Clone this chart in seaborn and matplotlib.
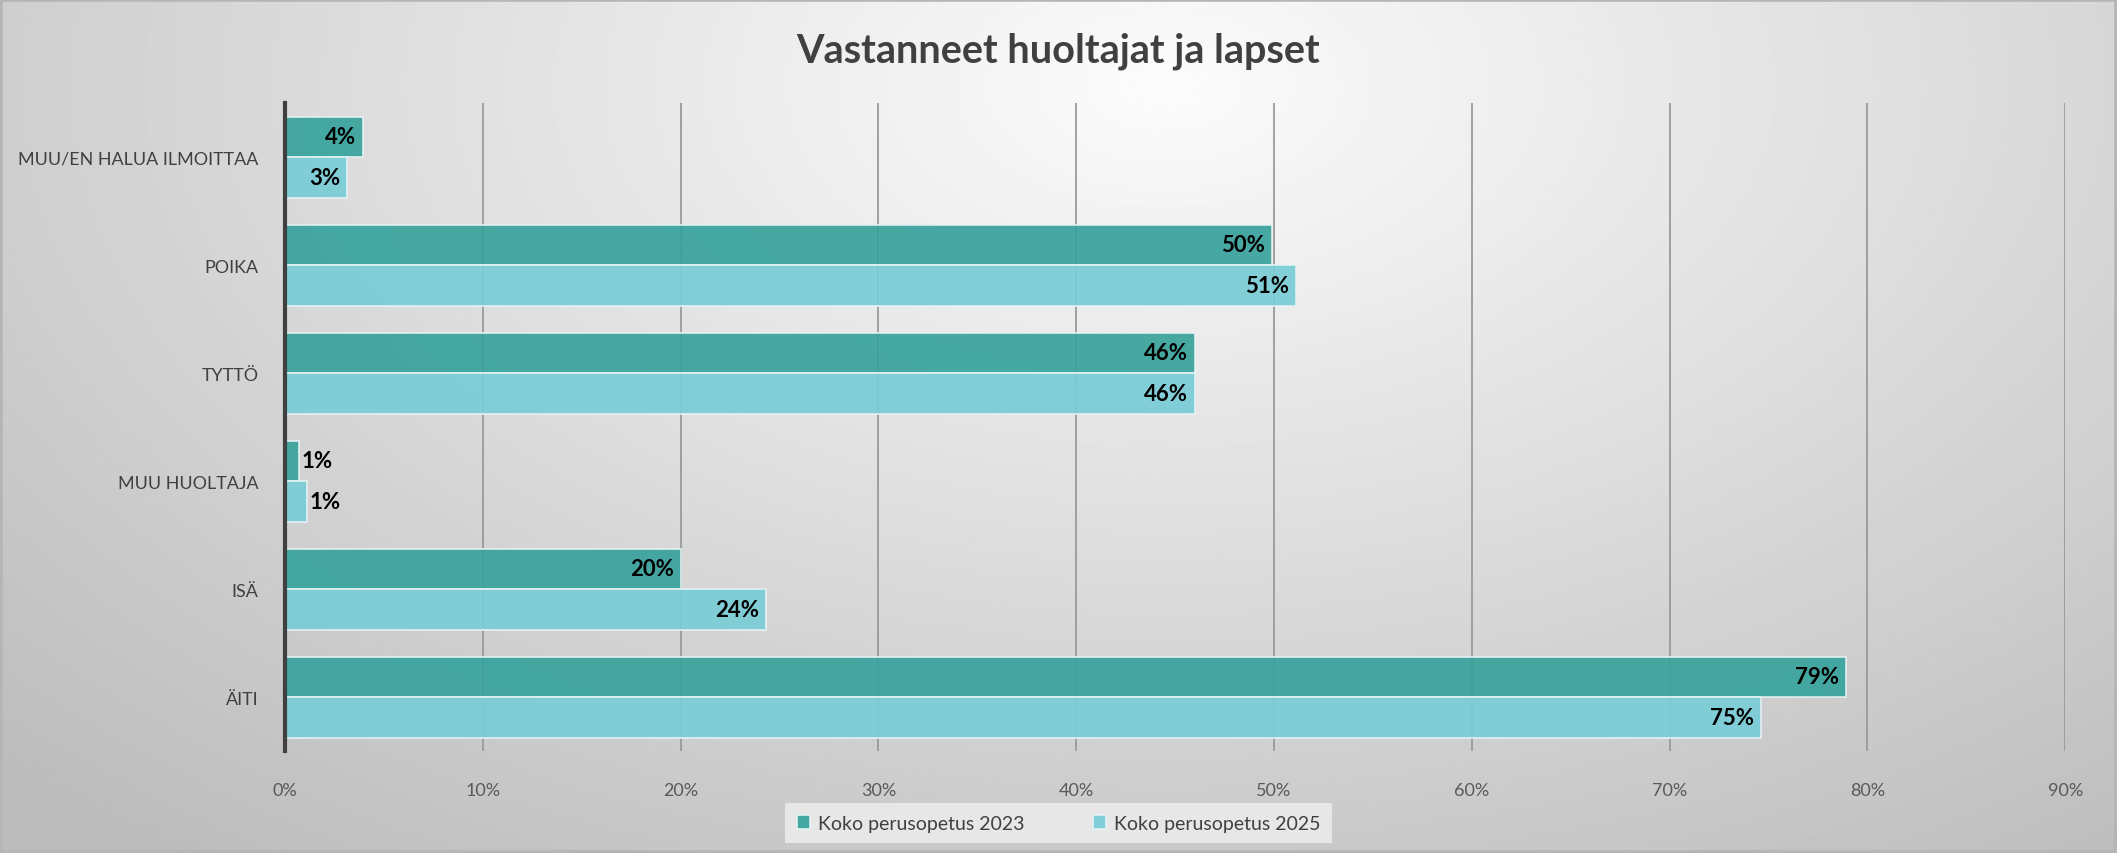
import numpy as np
import pandas as pd
import matplotlib
matplotlib.use("Agg")
import matplotlib.pyplot as plt
import seaborn as sns

# data
categories = ["MUU/EN HALUA ILMOITTAA", "POIKA", "TYTTÖ", "MUU HUOLTAJA", "ISÄ", "ÄITI"]
vals_2023 = [3.96, 49.9, 46.0, 0.7, 20.0, 78.9]
vals_2025 = [3.15, 51.1, 46.0, 1.1, 24.3, 74.6]
series = ["Koko perusopetus 2023", "Koko perusopetus 2025"]
xticks = [0, 10, 20, 30, 40, 50, 60, 70, 80, 90]

df = pd.DataFrame({
    "kategoria": categories * 2,
    "osuus": vals_2023 + vals_2025,
    "sarja": [series[0]] * len(categories) + [series[1]] * len(categories),
})

sns.set_theme(style="white")
plt.rcParams["font.family"] = ["Lato", "DejaVu Sans"]

fig = plt.figure(figsize=(21.17, 8.54), dpi=100)

# taustan liukuväri
bg = fig.add_axes([0, 0, 1, 1], zorder=-10)
yy, xx = np.mgrid[0:1:300j, 0:1:700j]
d = np.sqrt(((xx - 0.55) / 0.75) ** 2 + ((yy - 0.1) / 1.1) ** 2)
img = np.clip(252 - 62 * d, 188, 252) / 255.0
bg.imshow(img, cmap="gray", vmin=0, vmax=1, extent=[0, 1, 0, 1], aspect="auto")
bg.add_patch(plt.Rectangle((0, 0), 1, 1, fill=False, edgecolor="#b5b5b5", lw=4,
                           transform=bg.transAxes))
bg.set_axis_off()

ax = fig.add_axes([0.1346, 0.1194, 0.8409, 0.7588])
ax.patch.set_alpha(0)

colors = {series[0]: "#3aa39d", series[1]: "#7acdd7"}
sns.barplot(data=df, y="kategoria", x="osuus", hue="sarja", order=categories,
            hue_order=series, palette=colors, saturation=1, width=0.75,
            orient="h", edgecolor="#e8f4f4", linewidth=1.2, alpha=0.93, ax=ax)

ax.set_xlim(0, 90)
ax.set_ylim(5.5, -0.5)
ax.set_xticks(xticks)
ax.set_xticklabels([f"{t}%" for t in xticks], fontsize=13, color="#595959")
ax.set_xlabel("")
ax.set_ylabel("")
ax.tick_params(axis="y", labelsize=12.9, labelcolor="#404040", length=0, pad=19)
ax.tick_params(axis="x", length=0, pad=22)
ax.set_axisbelow(True)
ax.xaxis.grid(True, color="#9a9a9a", lw=1.3)
for s in ["top", "right", "bottom"]:
    ax.spines[s].set_visible(False)
ax.spines["left"].set_color("#404040")
ax.spines["left"].set_linewidth(3)

# arvot palkkien päähän
for cont in ax.containers:
    for bar in cont:
        w = bar.get_width()
        yc = bar.get_y() + bar.get_height() / 2
        txt = f"{round(w):.0f}%"
        if w < 2:
            ax.annotate(txt, (w, yc), xytext=(2, 0), textcoords="offset points",
                        ha="left", va="center", fontsize=16, fontweight="bold", color="black")
        else:
            ax.annotate(txt, (w, yc), xytext=(-5, 0), textcoords="offset points",
                        ha="right", va="center", fontsize=16, fontweight="bold", color="black")

handles, labels = ax.get_legend_handles_labels()
ax.get_legend().remove()
leg = fig.legend(handles, labels, loc="center", bbox_to_anchor=(0.5, 0.035), ncol=2,
                 frameon=True, facecolor="#ebebeb", edgecolor="none", fancybox=False,
                 fontsize=14, handlelength=0.7, handleheight=0.7, handletextpad=0.4,
                 columnspacing=3.5, borderpad=0.6, borderaxespad=0)
for t in leg.get_texts():
    t.set_color("#404040")
leg.get_frame().set_alpha(0.9)

fig.text(0.5, 0.94, "Vastanneet huoltajat ja lapset", ha="center", va="center",
         fontsize=28.5, fontweight="bold", color="#404040")

fig.savefig("out.png", dpi=100)
